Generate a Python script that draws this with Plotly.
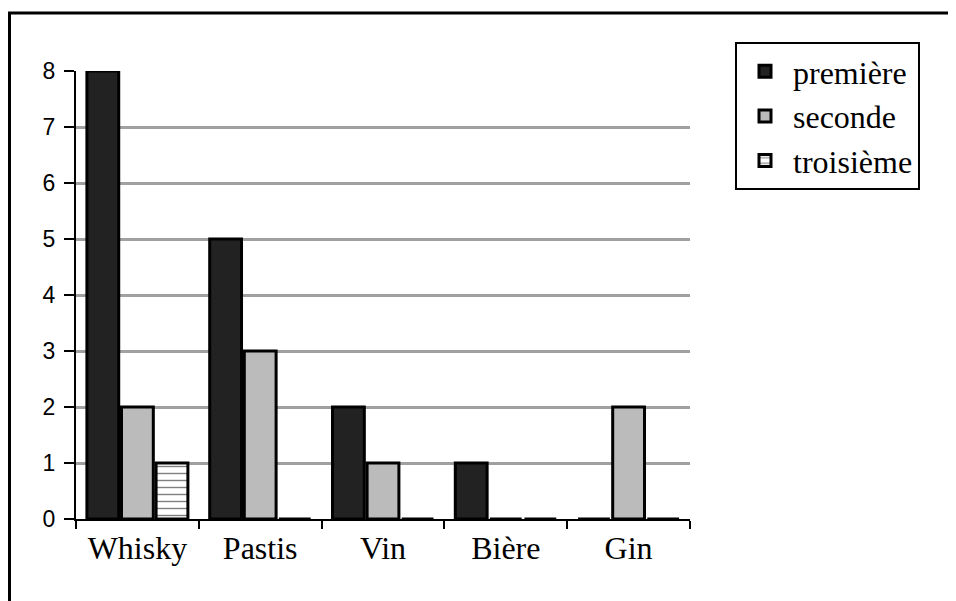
import plotly.graph_objects as go

categories = ["Whisky", "Pastis", "Vin", "Bière", "Gin"]
premiere = [8, 5, 2, 1, 0]
seconde = [2, 3, 1, 0, 2]
troisieme = [1, 0, 0, 0, 0]
y_ticks = [0, 1, 2, 3, 4, 5, 6, 7, 8]

# the page body has an 8px margin, so the figure is sized to fit the window
OFF = 8
W, H = 956 - OFF, 601 - OFF
L, T = 76 - OFF, 71 - OFF
R = W - (690 - OFF)
B = H - (519 - OFF)
pw = W - L - R
ph = H - T - B

fig = go.Figure()
fig.add_trace(go.Bar(name="première", x=categories, y=premiere, legendgroup="a",
                     marker=dict(color="#222222", line=dict(color="black", width=3))))
fig.add_trace(go.Bar(name="seconde", x=categories, y=seconde, legendgroup="b",
                     marker=dict(color="#bbbbbb", line=dict(color="black", width=3))))
fig.add_trace(go.Bar(name="troisième", x=categories, y=troisieme, legendgroup="c",
                     marker=dict(color="white", line=dict(color="black", width=3),
                                 pattern=dict(shape="-", fgcolor="black", bgcolor="white",
                                              size=7, solidity=0.2))))

fig.update_layout(
    width=W, height=H,
    margin=dict(l=L, r=R, t=T, b=B, autoexpand=False),
    paper_bgcolor="white", plot_bgcolor="white",
    barmode="group", bargap=0.155, bargroupgap=0.08,
    showlegend=True,
    legend=dict(x=(735 - OFF - L) / pw, y=(H - B - (42 - OFF)) / ph,
                xanchor="left", yanchor="top",
                bordercolor="black", borderwidth=2, bgcolor="white",
                font=dict(family="Liberation Serif", size=32, color="black"),
                tracegroupgap=10, traceorder="normal", itemwidth=46),
    xaxis=dict(showline=True, linecolor="black", linewidth=2, ticks="outside",
               tickson="boundaries", ticklen=8, tickwidth=2, tickcolor="black",
               tickfont=dict(family="Liberation Serif", size=32, color="black"),
               showgrid=False, zeroline=False),
    yaxis=dict(range=[0, 8], tickvals=y_ticks, showline=True, linecolor="black", linewidth=2,
               ticks="outside", ticklen=10, tickwidth=2, tickcolor="black",
               tickfont=dict(family="Liberation Sans", size=23, color="black"),
               ticklabelstandoff=4,
               showgrid=True, gridcolor="#a0a0a0", gridwidth=3, zeroline=False),
    shapes=[dict(type="rect", xref="paper", yref="paper",
                 x0=(1.5 - L) / pw, x1=1.6, y0=-0.4, y1=(H - B - (13 - OFF)) / ph,
                 line=dict(color="black", width=3), fillcolor="rgba(0,0,0,0)", layer="below")],
)

fig.write_html("out.html")
